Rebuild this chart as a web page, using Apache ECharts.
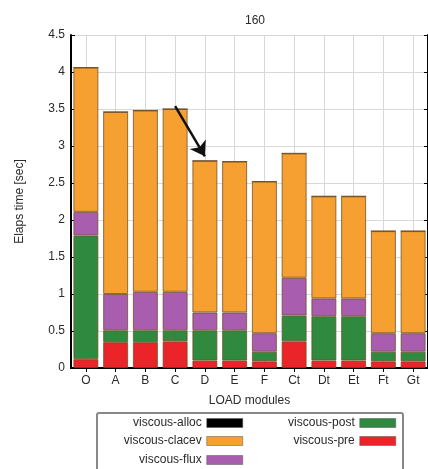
<!DOCTYPE html>
<html><head><meta charset="utf-8">
<script src="https://cdn.jsdelivr.net/npm/echarts@6/dist/echarts.min.js"></script>
<style>html,body{margin:0;padding:0;background:#fff}#c{width:428px;height:469px}</style>
</head><body><div id="c"></div>
<script>
const categories = ['O','A','B','C','D','E','F','Ct','Dt','Et','Ft','Gt'];
const viscousPre    = [0.12,0.35,0.35,0.36,0.10,0.10,0.09,0.36,0.10,0.10,0.09,0.09];
const viscousPost   = [1.67,0.16,0.16,0.15,0.41,0.41,0.13,0.35,0.60,0.60,0.13,0.13];
const viscousFlux   = [0.32,0.49,0.52,0.52,0.24,0.24,0.25,0.51,0.24,0.24,0.25,0.25];
const viscousClacev = [1.95,2.46,2.45,2.47,2.05,2.04,2.05,1.68,1.38,1.38,1.38,1.38];
const viscousAlloc  = [0,0,0,0,0,0,0,0,0,0,0,0];
const arrowFrom = ['C', 3.54];
const arrowTo = ['D', 2.86];
const titleText = '160';

const halfSteps = Array.from({length: categories.length * 2 + 1}, (_, i) => String(i));
const FONT = 'Liberation Sans, Arial, sans-serif';
const edge = 'rgba(110,75,35,0.75)';
const TXT = '#2a2a2a';

const seriesDefs = [
  {name:'viscous-pre', data: viscousPre, color:'#ea2428'},
  {name:'viscous-post', data: viscousPost, color:'#2f8a3f'},
  {name:'viscous-flux', data: viscousFlux, color:'#a85daf'},
  {name:'viscous-clacev', data: viscousClacev, color:'#f6a031'},
  {name:'viscous-alloc', data: viscousAlloc, color:'#000000'}
];

const series = seriesDefs.map((s, i) => ({
  name: s.name, type: 'bar', stack: 'total', data: s.data,
  barWidth: 25, xAxisIndex: 0, yAxisIndex: 0,
  itemStyle: {color: s.color, borderColor: edge, borderWidth: 1},
  emphasis: {disabled: true}
}));
series[3].markLine = {
  silent: true, symbol: ['none', 'arrow'], symbolSize: 14,
  label: {show: false}, z: 10,
  lineStyle: {color: '#111', width: 2.5, type: 'solid'},
  data: [[{coord: arrowFrom}, {coord: arrowTo}]]
};

const legendLayout = [
  {name:'viscous-alloc', right: 185, top: 417},
  {name:'viscous-clacev', right: 185, top: 435},
  {name:'viscous-flux', right: 185, top: 454},
  {name:'viscous-post', right: 32, top: 417},
  {name:'viscous-pre', right: 32, top: 435}
];
const legends = legendLayout.map(l => ({
  data: [l.name], right: l.right, top: l.top, align: 'right', padding: 0,
  icon: 'rect', itemWidth: 36, itemHeight: 9,
  itemStyle: {borderColor: '#555', borderWidth: 0.5},
  textStyle: {fontFamily: FONT, fontSize: 12, color: TXT},
  selectedMode: false
}));

const chart = echarts.init(document.getElementById('c'), null, {renderer: 'canvas'});
chart.setOption({
  animation: false,
  backgroundColor: '#fff',
  title: {text: titleText, left: 240, top: 10, textStyle: {fontFamily: FONT, fontSize: 12, fontWeight: 'normal', color: TXT}},
  grid: {left: 71, top: 35, width: 360, height: 333},
  legend: legends,
  graphic: [{type: 'rect', shape: {x: 97, y: 413, width: 306, height: 70, r: 2}, style: {fill: 'none', stroke: '#888', lineWidth: 2}, silent: true}],
  xAxis: [
    {type: 'category', data: categories, position: 'bottom',
     axisLine: {lineStyle: {color: '#000', width: 2}}, axisTick: {show: false},
     axisLabel: {fontFamily: FONT, fontSize: 12, color: TXT, margin: 7},
     splitLine: {show: false},
     name: 'LOAD modules', nameLocation: 'middle', nameGap: 27,
     nameTextStyle: {fontFamily: FONT, fontSize: 12, color: TXT}},
    {type: 'category', data: halfSteps, boundaryGap: false, position: 'top',
     axisLine: {show: true, lineStyle: {color: '#000', width: 2}},
     axisTick: {show: true, inside: true, length: 4, interval: (i) => i % 2 === 1, lineStyle: {color: '#000'}},
     axisLabel: {show: false},
     splitLine: {show: true, interval: (i) => i % 2 === 1, lineStyle: {color: '#d8d8d8', width: 1}}}
  ],
  yAxis: [
    {type: 'value', min: 0, max: 4.5, interval: 0.5, position: 'left',
     axisLine: {show: true, lineStyle: {color: '#000', width: 2}},
     axisTick: {show: true, inside: true, length: 4, lineStyle: {color: '#000'}},
     axisLabel: {fontFamily: FONT, fontSize: 12, color: TXT, margin: 6},
     splitLine: {show: true, lineStyle: {color: '#d8d8d8', width: 1}},
     name: 'Elaps time [sec]', nameLocation: 'middle', nameGap: 45, nameRotate: 90,
     nameTextStyle: {fontFamily: FONT, fontSize: 12, color: TXT}},
    {type: 'value', min: 0, max: 4.5, interval: 0.5, position: 'right',
     axisLine: {show: true, lineStyle: {color: '#000', width: 2}},
     axisTick: {show: true, inside: true, length: 4, lineStyle: {color: '#000'}},
     axisLabel: {show: false}, splitLine: {show: false}}
  ],
  series: series
});
</script></body></html>
